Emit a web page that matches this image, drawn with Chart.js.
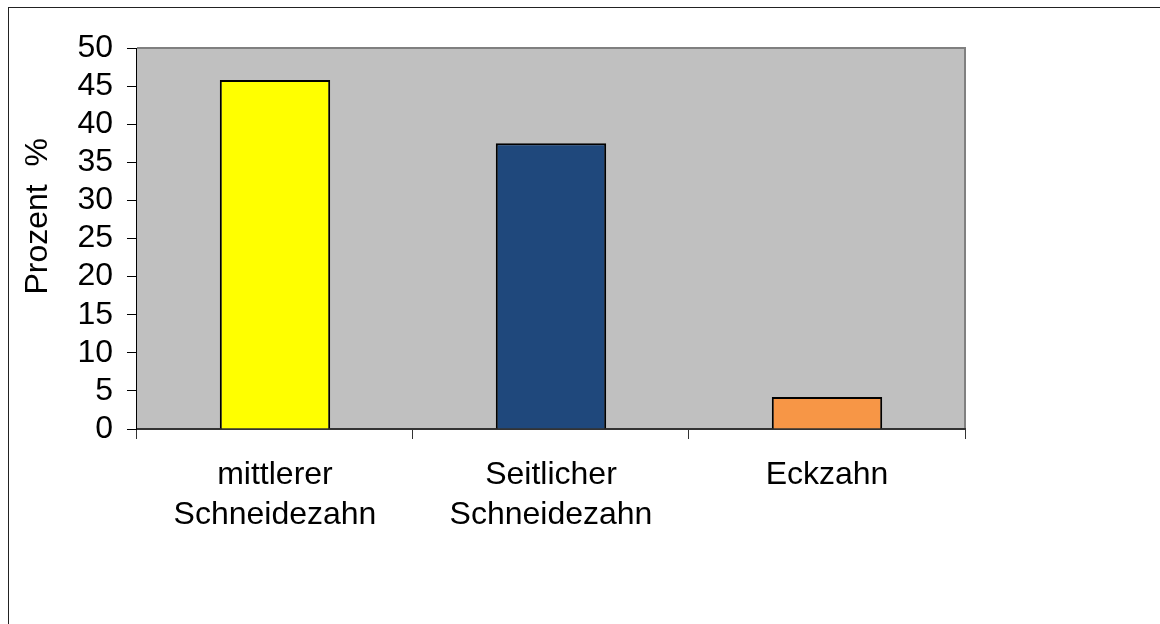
<!DOCTYPE html>
<html>
<head>
<meta charset="utf-8">
<script src="https://cdn.jsdelivr.net/npm/chart.js@4/dist/chart.umd.min.js"></script>
<style>
  html, body { margin: 0; padding: 0; background: #fff; }
  #wrap { width: 1160px; height: 624px; position: relative; }
</style>
</head>
<body>
<div id="wrap"><canvas id="chart"></canvas></div>
<script>
// Daten
const categories = [['mittlerer', 'Schneidezahn'], ['Seitlicher', 'Schneidezahn'], 'Eckzahn'];
const values = [45.8, 37.5, 4.2];
const barColors = ['#ffff00', '#1f487c', '#f79646'];
const yTitle = '     Prozent  %';   // führende Leerzeichen: Titel sitzt etwas höher

const FONT = 'Arial, "Liberation Sans", sans-serif';

// Rahmen + grauer Plotbereich
const frame = {
  id: 'frame',
  beforeDraw(chart) {
    const { ctx, chartArea: a } = chart;
    ctx.save();
    ctx.strokeStyle = '#222';
    ctx.lineWidth = 1;
    ctx.strokeRect(8.5, 7.5, 1300, 800);
    ctx.fillStyle = '#c0c0c0';
    ctx.fillRect(a.left, a.top, a.right - a.left, a.bottom - a.top);
    ctx.strokeStyle = '#808080';
    ctx.lineWidth = 2;
    ctx.beginPath();
    ctx.moveTo(a.left, a.top);
    ctx.lineTo(a.right, a.top);
    ctx.lineTo(a.right, a.bottom);
    ctx.stroke();
    ctx.restore();
  }
};

new Chart(document.getElementById('chart'), {
  type: 'bar',
  data: {
    labels: categories,
    datasets: [{
      data: values,
      backgroundColor: barColors,
      borderColor: '#000',
      borderWidth: 2,
      barPercentage: 0.4,
      categoryPercentage: 1
    }]
  },
  options: {
    responsive: true,
    maintainAspectRatio: false,
    animation: false,
    layout: { padding: { left: 10, top: 48, right: 195, bottom: 73 } },
    plugins: { legend: { display: false }, tooltip: { enabled: false } },
    scales: {
      x: {
        grid: { offset: true, drawOnChartArea: false, drawTicks: true, tickLength: 10, color: '#333' },
        border: { color: '#333', width: 2 },
        ticks: { color: '#000', padding: 16, font: { family: FONT, size: 32, lineHeight: 1.25 }, maxRotation: 0 }
      },
      y: {
        min: 0, max: 50,
        grid: { drawOnChartArea: false, drawTicks: true, tickLength: 10, color: '#000' },
        border: { color: '#000', width: 1 },
        ticks: { stepSize: 5, autoSkip: false, color: '#000', padding: 14, font: { family: FONT, size: 32 } },
        title: { display: true, text: yTitle, color: '#000', font: { family: FONT, size: 32 }, padding: { top: 9, bottom: 6 } }
      }
    }
  },
  plugins: [frame]
});
</script>
</body>
</html>
